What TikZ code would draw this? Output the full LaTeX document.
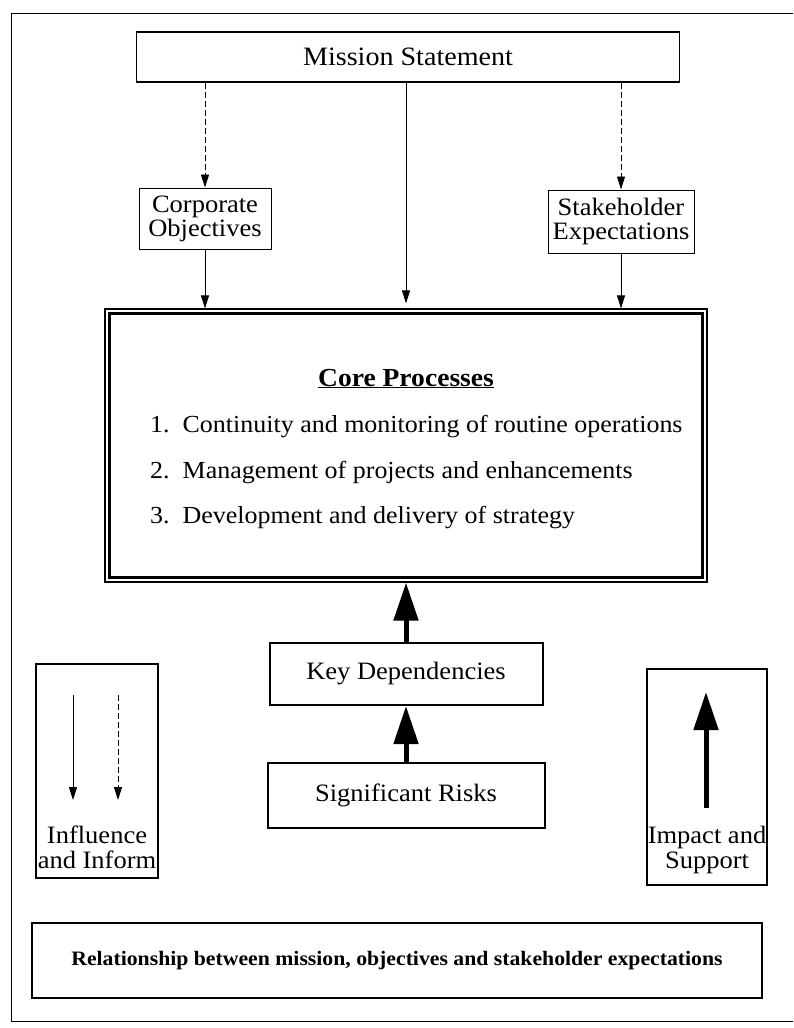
\documentclass[tikz,border=0pt]{standalone}
\usepackage{fontspec}
\setmainfont[FakeStretch=1.06]{Liberation Serif}
\usetikzlibrary{arrows.meta}
\begin{document}
\begin{tikzpicture}[x=1pt,y=-1pt,
  txt/.style={font=\fontsize{25}{27}\selectfont, inner sep=0pt, align=center},
  box/.style={draw, line width=1pt, inner sep=0pt, align=center, font=\fontsize{25}{27}\selectfont},
  heavybox/.style={box, line width=2pt},
  thinarrow/.style={line width=0.9pt, -{Triangle[length=13pt,width=8pt]}},
  dasharrow/.style={thinarrow, dash pattern=on 6pt off 3pt},
  thickarrow/.style={line width=5pt, -{Triangle[length=38pt,width=24pt]}},
  itemtext/.style={font=\fontsize{24.5}{27}\selectfont, inner sep=0pt, anchor=base west}
]
\useasboundingbox (0,0) rectangle (793,1028);
\begin{scope}
  \clip (0,0) rectangle (793,1028);
  \draw[line width=1pt] (11,13) rectangle (830,1021);
\end{scope}

% top boxes
\node[box, line width=1.5pt, minimum width=543pt, minimum height=50pt, font=\fontsize{26.5}{28}\selectfont] (mission) at (408,57) {Mission Statement};
\node[box, minimum width=132pt, minimum height=61pt] (corp) at (205,218.5) {Corporate\\[-3pt]Objectives};
\node[box, minimum width=146pt, minimum height=63pt] (stake) at (621,221.5) {Stakeholder\\[-3pt]Expectations};

% core box (double border)
\node[draw, line width=1.2pt, minimum width=602pt, minimum height=273pt, inner sep=0pt] (core) at (406,445.5) {};
\draw[line width=3pt] ([shift={(5.5,5.5)}]core.north west) rectangle ([shift={(-5.5,-5.5)}]core.south east);
\node[font=\bfseries\fontsize{26}{28}\selectfont, inner sep=0pt, anchor=base] (title) at (406,386) {\underline{Core Processes}};
\node[itemtext] (item1) at (150,432) {1.\ \ Continuity and monitoring of routine operations};
\node[itemtext] (item2) at (150,478) {2.\ \ Management of projects and enhancements};
\node[itemtext] (item3) at (150,523) {3.\ \ Development and delivery of strategy};

% arrows from the top
\draw[dasharrow] (mission.south -| corp.north) -- (corp.north);
\draw[dasharrow] (mission.south -| stake.north) -- (stake.north);
\draw[thinarrow, shorten >=5pt] (mission.south -| core.north) -- (core.north);
\draw[thinarrow] (corp.south) -- (corp.south |- core.north);
\draw[thinarrow] (stake.south) -- (stake.south |- core.north);

% dependencies and risks
\node[heavybox, minimum width=273pt, minimum height=62pt] (keydep) at (406,674) {Key Dependencies};
\node[heavybox, minimum width=277pt, minimum height=65pt] (risks) at (406,795.5) {Significant Risks};
\draw[thickarrow] (keydep.north) -- (core.south);
\draw[thickarrow] (risks.north) -- (keydep.south);

% legend left
\node[heavybox, minimum width=122pt, minimum height=214pt] (legl) at (97,771) {};
\coordinate (ls1) at (73,695);
\coordinate (le1) at (73,800);
\coordinate (ls2) at (118,695);
\coordinate (le2) at (118,800);
\draw[thinarrow] (ls1) -- (le1);
\draw[dasharrow] (ls2) -- (le2);
\node[txt] (legltext) at (97,847) {Influence\\[-2pt]and Inform};

% legend right
\node[heavybox, minimum width=120pt, minimum height=216pt] (legr) at (707,777) {};
\coordinate (rs) at (706,808);
\coordinate (re) at (706,692);
\draw[thickarrow] (rs) -- (re);
\node[txt] (legrtext) at (707,850) {Impact and\\[-2pt]Support};

% caption box
\node[heavybox, minimum width=730pt, minimum height=75pt, font=\bfseries\fontsize{20.5}{22}\selectfont] (caption) at (397,960.5) {Relationship between mission, objectives and stakeholder expectations};
\end{tikzpicture}
\end{document}
